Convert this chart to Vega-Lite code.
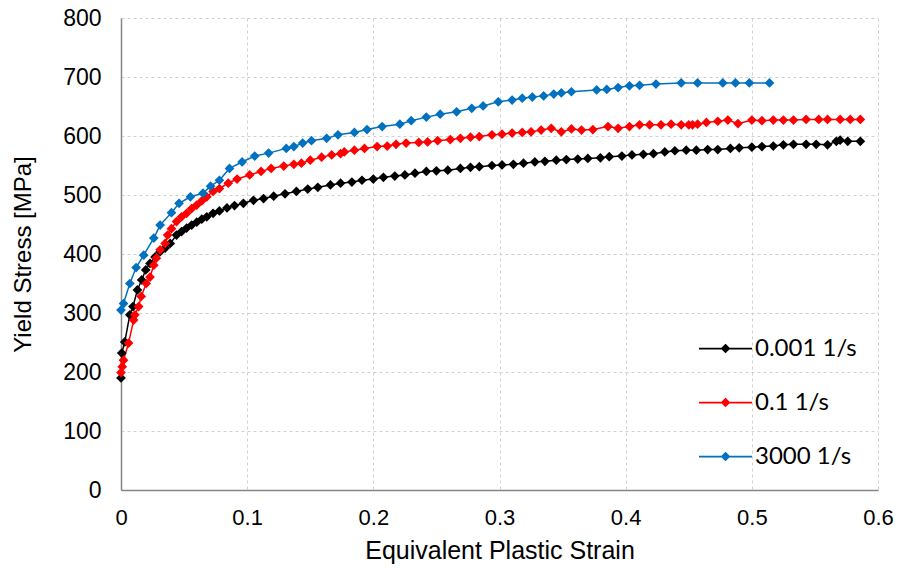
{
  "$schema": "https://vega.github.io/schema/vega-lite/v6.json",
  "width": 757,
  "height": 472,
  "autosize": "none",
  "padding": {"left": 121, "top": 18, "right": 22, "bottom": 83},
  "background": "white",
  "config": {
    "view": {"stroke": null},
    "font": "Liberation Sans",
    "axis": {
      "labelFont": "Liberation Sans", "labelFontSize": 20, "labelColor": "#000000",
      "titleFont": "Liberation Sans", "titleFontSize": 24, "titleFontWeight": "normal", "titleColor": "#000000",
      "gridColor": "#d0d0d0", "gridDash": [3, 3], "gridWidth": 1,
      "domainColor": "#868686", "domainWidth": 1.5, "ticks": false
    }
  },
  "data": {"values": [
    {"s":0,"y":190,"r":"0.001 1/s"},{"s":0.0006,"y":232,"r":"0.001 1/s"},{"s":0.003,"y":251,"r":"0.001 1/s"},{"s":0.007,"y":297,"r":"0.001 1/s"},{"s":0.0095,"y":311,"r":"0.001 1/s"},{"s":0.013,"y":339,"r":"0.001 1/s"},{"s":0.0164,"y":356,"r":"0.001 1/s"},{"s":0.0196,"y":373,"r":"0.001 1/s"},{"s":0.023,"y":384,"r":"0.001 1/s"},{"s":0.027,"y":395,"r":"0.001 1/s"},{"s":0.031,"y":404,"r":"0.001 1/s"},{"s":0.035,"y":410,"r":"0.001 1/s"},{"s":0.039,"y":418,"r":"0.001 1/s"},{"s":0.044,"y":432,"r":"0.001 1/s"},{"s":0.048,"y":438,"r":"0.001 1/s"},{"s":0.052,"y":444,"r":"0.001 1/s"},{"s":0.056,"y":449,"r":"0.001 1/s"},{"s":0.06,"y":454,"r":"0.001 1/s"},{"s":0.064,"y":459,"r":"0.001 1/s"},{"s":0.068,"y":463,"r":"0.001 1/s"},{"s":0.073,"y":469,"r":"0.001 1/s"},{"s":0.078,"y":473,"r":"0.001 1/s"},{"s":0.084,"y":478,"r":"0.001 1/s"},{"s":0.09,"y":482,"r":"0.001 1/s"},{"s":0.097,"y":486,"r":"0.001 1/s"},{"s":0.105,"y":491,"r":"0.001 1/s"},{"s":0.113,"y":494,"r":"0.001 1/s"},{"s":0.121,"y":498,"r":"0.001 1/s"},{"s":0.13,"y":502,"r":"0.001 1/s"},{"s":0.139,"y":506,"r":"0.001 1/s"},{"s":0.148,"y":510,"r":"0.001 1/s"},{"s":0.156,"y":513,"r":"0.001 1/s"},{"s":0.166,"y":517,"r":"0.001 1/s"},{"s":0.174,"y":520,"r":"0.001 1/s"},{"s":0.183,"y":522,"r":"0.001 1/s"},{"s":0.191,"y":525,"r":"0.001 1/s"},{"s":0.2,"y":527,"r":"0.001 1/s"},{"s":0.208,"y":530,"r":"0.001 1/s"},{"s":0.217,"y":532,"r":"0.001 1/s"},{"s":0.225,"y":534,"r":"0.001 1/s"},{"s":0.233,"y":537,"r":"0.001 1/s"},{"s":0.242,"y":540,"r":"0.001 1/s"},{"s":0.25,"y":541,"r":"0.001 1/s"},{"s":0.259,"y":542,"r":"0.001 1/s"},{"s":0.269,"y":545,"r":"0.001 1/s"},{"s":0.277,"y":547,"r":"0.001 1/s"},{"s":0.284,"y":548,"r":"0.001 1/s"},{"s":0.294,"y":550,"r":"0.001 1/s"},{"s":0.302,"y":551,"r":"0.001 1/s"},{"s":0.311,"y":552,"r":"0.001 1/s"},{"s":0.319,"y":554,"r":"0.001 1/s"},{"s":0.328,"y":556,"r":"0.001 1/s"},{"s":0.336,"y":557,"r":"0.001 1/s"},{"s":0.345,"y":559,"r":"0.001 1/s"},{"s":0.353,"y":560,"r":"0.001 1/s"},{"s":0.362,"y":561,"r":"0.001 1/s"},{"s":0.37,"y":562,"r":"0.001 1/s"},{"s":0.38,"y":563,"r":"0.001 1/s"},{"s":0.387,"y":565,"r":"0.001 1/s"},{"s":0.397,"y":566,"r":"0.001 1/s"},{"s":0.405,"y":568,"r":"0.001 1/s"},{"s":0.414,"y":569,"r":"0.001 1/s"},{"s":0.422,"y":570,"r":"0.001 1/s"},{"s":0.431,"y":573,"r":"0.001 1/s"},{"s":0.439,"y":575,"r":"0.001 1/s"},{"s":0.448,"y":576,"r":"0.001 1/s"},{"s":0.456,"y":576,"r":"0.001 1/s"},{"s":0.465,"y":577,"r":"0.001 1/s"},{"s":0.473,"y":577,"r":"0.001 1/s"},{"s":0.483,"y":579,"r":"0.001 1/s"},{"s":0.49,"y":580,"r":"0.001 1/s"},{"s":0.5,"y":581,"r":"0.001 1/s"},{"s":0.508,"y":582,"r":"0.001 1/s"},{"s":0.517,"y":583,"r":"0.001 1/s"},{"s":0.525,"y":585,"r":"0.001 1/s"},{"s":0.533,"y":586,"r":"0.001 1/s"},{"s":0.543,"y":586,"r":"0.001 1/s"},{"s":0.551,"y":586,"r":"0.001 1/s"},{"s":0.56,"y":585,"r":"0.001 1/s"},{"s":0.567,"y":591,"r":"0.001 1/s"},{"s":0.57,"y":593,"r":"0.001 1/s"},{"s":0.576,"y":591,"r":"0.001 1/s"},{"s":0.586,"y":591,"r":"0.001 1/s"},
    {"s":0,"y":199,"r":"0.1 1/s"},{"s":0.001,"y":209,"r":"0.1 1/s"},{"s":0.002,"y":220,"r":"0.1 1/s"},{"s":0.006,"y":249,"r":"0.1 1/s"},{"s":0.01,"y":288,"r":"0.1 1/s"},{"s":0.011,"y":297,"r":"0.1 1/s"},{"s":0.014,"y":311,"r":"0.1 1/s"},{"s":0.016,"y":328,"r":"0.1 1/s"},{"s":0.02,"y":350,"r":"0.1 1/s"},{"s":0.023,"y":361,"r":"0.1 1/s"},{"s":0.026,"y":381,"r":"0.1 1/s"},{"s":0.028,"y":393,"r":"0.1 1/s"},{"s":0.031,"y":407,"r":"0.1 1/s"},{"s":0.035,"y":418,"r":"0.1 1/s"},{"s":0.037,"y":432,"r":"0.1 1/s"},{"s":0.04,"y":443,"r":"0.1 1/s"},{"s":0.044,"y":455,"r":"0.1 1/s"},{"s":0.048,"y":463,"r":"0.1 1/s"},{"s":0.052,"y":469,"r":"0.1 1/s"},{"s":0.056,"y":477,"r":"0.1 1/s"},{"s":0.06,"y":483,"r":"0.1 1/s"},{"s":0.064,"y":490,"r":"0.1 1/s"},{"s":0.068,"y":497,"r":"0.1 1/s"},{"s":0.073,"y":506,"r":"0.1 1/s"},{"s":0.078,"y":511,"r":"0.1 1/s"},{"s":0.085,"y":520,"r":"0.1 1/s"},{"s":0.092,"y":527,"r":"0.1 1/s"},{"s":0.102,"y":534,"r":"0.1 1/s"},{"s":0.111,"y":540,"r":"0.1 1/s"},{"s":0.119,"y":545,"r":"0.1 1/s"},{"s":0.129,"y":549,"r":"0.1 1/s"},{"s":0.137,"y":552,"r":"0.1 1/s"},{"s":0.143,"y":554,"r":"0.1 1/s"},{"s":0.15,"y":559,"r":"0.1 1/s"},{"s":0.159,"y":564,"r":"0.1 1/s"},{"s":0.167,"y":568,"r":"0.1 1/s"},{"s":0.174,"y":570,"r":"0.1 1/s"},{"s":0.177,"y":573,"r":"0.1 1/s"},{"s":0.185,"y":576,"r":"0.1 1/s"},{"s":0.193,"y":579,"r":"0.1 1/s"},{"s":0.203,"y":582,"r":"0.1 1/s"},{"s":0.211,"y":583,"r":"0.1 1/s"},{"s":0.218,"y":586,"r":"0.1 1/s"},{"s":0.226,"y":588,"r":"0.1 1/s"},{"s":0.236,"y":589,"r":"0.1 1/s"},{"s":0.243,"y":590,"r":"0.1 1/s"},{"s":0.251,"y":592,"r":"0.1 1/s"},{"s":0.261,"y":594,"r":"0.1 1/s"},{"s":0.269,"y":596,"r":"0.1 1/s"},{"s":0.277,"y":598,"r":"0.1 1/s"},{"s":0.284,"y":599,"r":"0.1 1/s"},{"s":0.294,"y":602,"r":"0.1 1/s"},{"s":0.302,"y":603,"r":"0.1 1/s"},{"s":0.31,"y":605,"r":"0.1 1/s"},{"s":0.318,"y":606,"r":"0.1 1/s"},{"s":0.325,"y":607,"r":"0.1 1/s"},{"s":0.333,"y":610,"r":"0.1 1/s"},{"s":0.341,"y":613,"r":"0.1 1/s"},{"s":0.349,"y":607,"r":"0.1 1/s"},{"s":0.357,"y":612,"r":"0.1 1/s"},{"s":0.365,"y":610,"r":"0.1 1/s"},{"s":0.374,"y":611,"r":"0.1 1/s"},{"s":0.386,"y":616,"r":"0.1 1/s"},{"s":0.394,"y":613,"r":"0.1 1/s"},{"s":0.403,"y":616,"r":"0.1 1/s"},{"s":0.411,"y":619,"r":"0.1 1/s"},{"s":0.419,"y":619,"r":"0.1 1/s"},{"s":0.428,"y":619,"r":"0.1 1/s"},{"s":0.436,"y":620,"r":"0.1 1/s"},{"s":0.444,"y":619,"r":"0.1 1/s"},{"s":0.45,"y":619,"r":"0.1 1/s"},{"s":0.453,"y":619,"r":"0.1 1/s"},{"s":0.457,"y":620,"r":"0.1 1/s"},{"s":0.464,"y":623,"r":"0.1 1/s"},{"s":0.473,"y":625,"r":"0.1 1/s"},{"s":0.481,"y":627,"r":"0.1 1/s"},{"s":0.489,"y":621,"r":"0.1 1/s"},{"s":0.5,"y":627,"r":"0.1 1/s"},{"s":0.508,"y":626,"r":"0.1 1/s"},{"s":0.517,"y":627,"r":"0.1 1/s"},{"s":0.525,"y":627,"r":"0.1 1/s"},{"s":0.533,"y":627,"r":"0.1 1/s"},{"s":0.543,"y":628,"r":"0.1 1/s"},{"s":0.553,"y":628,"r":"0.1 1/s"},{"s":0.56,"y":628,"r":"0.1 1/s"},{"s":0.57,"y":628,"r":"0.1 1/s"},{"s":0.578,"y":628,"r":"0.1 1/s"},{"s":0.586,"y":628,"r":"0.1 1/s"},
    {"s":0,"y":305,"r":"3000 1/s"},{"s":0.002,"y":316,"r":"3000 1/s"},{"s":0.007,"y":350,"r":"3000 1/s"},{"s":0.012,"y":377,"r":"3000 1/s"},{"s":0.018,"y":398,"r":"3000 1/s"},{"s":0.026,"y":427,"r":"3000 1/s"},{"s":0.031,"y":449,"r":"3000 1/s"},{"s":0.04,"y":470,"r":"3000 1/s"},{"s":0.046,"y":486,"r":"3000 1/s"},{"s":0.055,"y":497,"r":"3000 1/s"},{"s":0.065,"y":503,"r":"3000 1/s"},{"s":0.071,"y":515,"r":"3000 1/s"},{"s":0.078,"y":525,"r":"3000 1/s"},{"s":0.086,"y":545,"r":"3000 1/s"},{"s":0.096,"y":556,"r":"3000 1/s"},{"s":0.106,"y":566,"r":"3000 1/s"},{"s":0.117,"y":571,"r":"3000 1/s"},{"s":0.131,"y":579,"r":"3000 1/s"},{"s":0.137,"y":582,"r":"3000 1/s"},{"s":0.144,"y":588,"r":"3000 1/s"},{"s":0.151,"y":592,"r":"3000 1/s"},{"s":0.163,"y":596,"r":"3000 1/s"},{"s":0.172,"y":602,"r":"3000 1/s"},{"s":0.185,"y":606,"r":"3000 1/s"},{"s":0.195,"y":611,"r":"3000 1/s"},{"s":0.207,"y":616,"r":"3000 1/s"},{"s":0.221,"y":620,"r":"3000 1/s"},{"s":0.23,"y":626,"r":"3000 1/s"},{"s":0.242,"y":632,"r":"3000 1/s"},{"s":0.253,"y":637,"r":"3000 1/s"},{"s":0.266,"y":641,"r":"3000 1/s"},{"s":0.278,"y":647,"r":"3000 1/s"},{"s":0.287,"y":651,"r":"3000 1/s"},{"s":0.299,"y":658,"r":"3000 1/s"},{"s":0.31,"y":661,"r":"3000 1/s"},{"s":0.318,"y":664,"r":"3000 1/s"},{"s":0.326,"y":666,"r":"3000 1/s"},{"s":0.335,"y":668,"r":"3000 1/s"},{"s":0.343,"y":671,"r":"3000 1/s"},{"s":0.349,"y":673,"r":"3000 1/s"},{"s":0.357,"y":675,"r":"3000 1/s"},{"s":0.377,"y":678,"r":"3000 1/s"},{"s":0.385,"y":679,"r":"3000 1/s"},{"s":0.394,"y":682,"r":"3000 1/s"},{"s":0.403,"y":685,"r":"3000 1/s"},{"s":0.411,"y":686,"r":"3000 1/s"},{"s":0.424,"y":688,"r":"3000 1/s"},{"s":0.444,"y":690,"r":"3000 1/s"},{"s":0.457,"y":690,"r":"3000 1/s"},{"s":0.477,"y":690,"r":"3000 1/s"},{"s":0.487,"y":690,"r":"3000 1/s"},{"s":0.498,"y":690,"r":"3000 1/s"},{"s":0.514,"y":690,"r":"3000 1/s"}
  ]},
  "mark": {"type": "line", "strokeWidth": 1.5, "point": {"filled": true, "shape": "diamond", "size": 95}},
  "encoding": {
    "x": {"field": "s", "type": "quantitative", "title": "Equivalent Plastic Strain",
      "scale": {"domain": [0, 0.6], "nice": false},
      "axis": {"values": [0, 0.1, 0.2, 0.3, 0.4, 0.5, 0.6], "labelFlush": false, "labelFontSize": 22, "labelPadding": 17, "titlePadding": 10, "titleFontSize": 25, "format": "~g"}},
    "y": {"field": "y", "type": "quantitative", "title": "Yield Stress [MPa]",
      "scale": {"domain": [0, 800], "nice": false},
      "axis": {"values": [0, 100, 200, 300, 400, 500, 600, 700, 800], "labelFontSize": 23, "labelPadding": 20, "titlePadding": 27}},
    "color": {"field": "r", "type": "nominal", "title": null,
      "scale": {"domain": ["0.001 1/s", "0.1 1/s", "3000 1/s"], "range": ["#000000", "#FF0000", "#0070C0"]},
      "legend": {"orient": "none", "legendX": 590, "legendY": 316, "padding": 0,
        "symbolType": "M-2,0L2,0M0,-0.27L0.27,0L0,0.27L-0.27,0Z", "symbolSize": 702,
        "symbolStrokeWidth": 1.75, "labelOffset": 15, "labelFontSize": 24, "labelFont": "Lato",
        "labelColor": "#000000", "rowPadding": 27}}
  }
}
